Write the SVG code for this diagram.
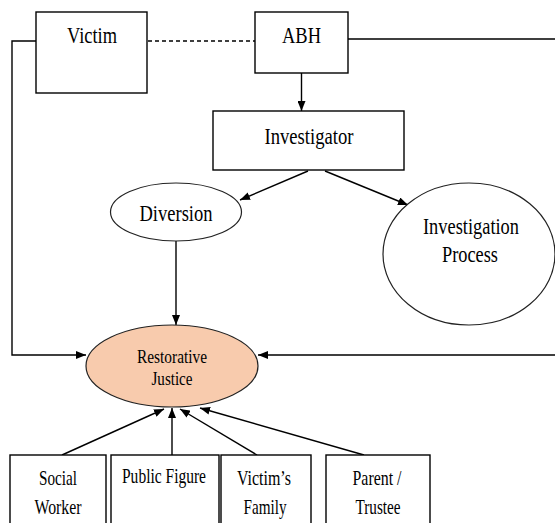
<svg xmlns="http://www.w3.org/2000/svg" width="555" height="523" viewBox="0 0 555 523">
<defs>
<marker id="ah" viewBox="0 0 10 8" refX="10" refY="4" markerWidth="10" markerHeight="8" markerUnits="userSpaceOnUse" orient="auto">
<path d="M0,0 L10,4 L0,8 z" fill="#000"/>
</marker>
<style>
.box{fill:#fff;stroke:#000;stroke-width:1.4}
.ell{fill:#fff;stroke:#222;stroke-width:1.2}
.rj{fill:#F8CBAD;stroke:#222;stroke-width:1.2}
.c{fill:none;stroke:#000;stroke-width:1.4}
.a{marker-end:url(#ah)}
</style>
</defs>
<rect width="555" height="523" fill="#fff"/>
<g id="connectors">
<polyline class="c a" points="36,41 12,41 12,355 86,355"/>
<line class="c" x1="148" y1="41" x2="255" y2="41" stroke-dasharray="4,3"/>
<polyline class="c a" points="348,39 557,39 557,355 258,355"/>
<line class="c a" x1="301.5" y1="73" x2="301.5" y2="111"/>
<line class="c a" x1="308" y1="171" x2="240" y2="200"/>
<line class="c a" x1="325" y1="171" x2="408" y2="205"/>
<line class="c a" x1="176" y1="241" x2="176" y2="325"/>
<line class="c a" x1="62" y1="455" x2="164" y2="409"/>
<line class="c a" x1="172" y1="455" x2="172" y2="408"/>
<line class="c a" x1="257" y1="455" x2="180" y2="409"/>
<line class="c a" x1="364" y1="455" x2="200" y2="408"/>
</g>
<g font-family="Liberation Serif, Times New Roman, serif" text-anchor="middle" fill="#000" font-size="24">
<g id="victim">
<rect class="box" x="36" y="12" width="111" height="81"/>
<text x="92" y="43" textLength="50" lengthAdjust="spacingAndGlyphs">Victim</text>
</g>
<g id="abh">
<rect class="box" x="255" y="12" width="93" height="61"/>
<text x="301.5" y="43" textLength="39" lengthAdjust="spacingAndGlyphs">ABH</text>
</g>
<g id="investigator">
<rect class="box" x="213" y="111" width="191" height="59"/>
<text x="309" y="144" textLength="89" lengthAdjust="spacingAndGlyphs">Investigator</text>
</g>
<g id="diversion">
<ellipse class="ell" cx="176" cy="212" rx="65.5" ry="29"/>
<text x="176" y="221" textLength="73" lengthAdjust="spacingAndGlyphs">Diversion</text>
</g>
<g id="investigation-process">
<ellipse class="ell" cx="469" cy="254" rx="86" ry="71"/>
<text x="471" y="234" textLength="96" lengthAdjust="spacingAndGlyphs">Investigation</text>
<text x="470" y="262" textLength="56" lengthAdjust="spacingAndGlyphs">Process</text>
</g>
<g id="restorative-justice" font-size="19">
<ellipse class="rj" cx="172" cy="366" rx="86" ry="41"/>
<text x="172" y="363" textLength="70" lengthAdjust="spacingAndGlyphs">Restorative</text>
<text x="172" y="385" textLength="41" lengthAdjust="spacingAndGlyphs">Justice</text>
</g>
<g id="social-worker" font-size="22">
<rect class="box" x="10" y="455" width="96" height="80"/>
<text x="58" y="485" textLength="38" lengthAdjust="spacingAndGlyphs">Social</text>
<text x="58" y="514" textLength="47" lengthAdjust="spacingAndGlyphs">Worker</text>
</g>
<g id="public-figure" font-size="22">
<rect class="box" x="111" y="455" width="108" height="80"/>
<text x="164" y="483" textLength="84" lengthAdjust="spacingAndGlyphs">Public Figure</text>
</g>
<g id="victims-family" font-size="22">
<rect class="box" x="221" y="455" width="90" height="80"/>
<text x="264" y="485" textLength="54" lengthAdjust="spacingAndGlyphs">Victim’s</text>
<text x="265" y="514" textLength="43" lengthAdjust="spacingAndGlyphs">Family</text>
</g>
<g id="parent-trustee" font-size="22">
<rect class="box" x="326" y="455" width="104" height="80"/>
<text x="377" y="485" textLength="49" lengthAdjust="spacingAndGlyphs">Parent /</text>
<text x="378" y="514" textLength="45" lengthAdjust="spacingAndGlyphs">Trustee</text>
</g>
</g>
</svg>
